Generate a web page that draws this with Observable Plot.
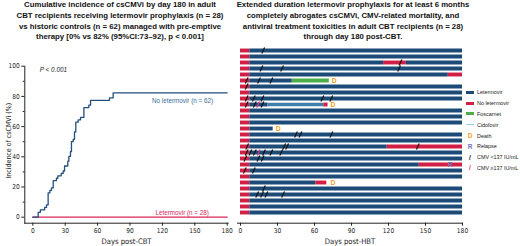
<!DOCTYPE html>
<html><head><meta charset="utf-8">
<script src="https://cdn.jsdelivr.net/npm/d3@7"></script>
<script src="https://cdn.jsdelivr.net/npm/@observablehq/plot@0.6"></script>
<style>
html,body{margin:0;padding:0;background:#fff;}
#wrap{position:relative;width:520px;height:246px;overflow:hidden;font-family:"Liberation Sans",Arial,sans-serif;}
.title{position:absolute;top:0;text-align:center;font-weight:bold;font-size:7.8px;line-height:10.8px;white-space:nowrap;color:#111;}
.panel{position:absolute;top:0;}
#legend{position:absolute;left:466px;top:87px;font-size:5.4px;color:#222;}
#legend .row{height:10.8px;display:flex;align-items:center;white-space:nowrap;}
#legend .sw{width:8px;display:inline-block;margin-right:3px;text-align:center;font-weight:bold;font-size:6.5px;}
</style></head>
<body><div id="wrap">
<div class="title" style="left:0;width:240px;">Cumulative incidence of csCMVi by day 180 in adult<br>CBT recipients receiving letermovir prophylaxis (n = 28)<br>vs historic controls (n = 62) managed with pre-emptive<br>therapy [0% vs 82% (95%CI:73–92), p &lt; 0.001]</div>
<div class="title" style="left:236px;width:234px;">Extended duration letermovir prophylaxis for at least 6 months<br>completely abrogates csCMVi, CMV-related mortality, and<br>antiviral treatment toxicities in adult CBT recipients (n = 28)<br>through day 180 post-CBT.</div>
<div class="panel" id="left" style="left:0;"></div>
<div class="panel" id="right" style="left:236px;"></div>
<div id="legend"></div>
</div>
<script>
// ---- Left panel data ----
const cumDays = [0, 5, 7, 11, 12.7, 14.2, 15.8, 17.3, 18.9, 21.9, 23.2, 26.3, 28.1, 29.4, 32.4, 33.4, 34.9, 35.8, 37.4, 38.6, 39.8, 42, 44.2, 47.3, 51.9, 53.5, 71, 74.4, 180];
const cumNoLet = [0, 3.2, 4.8, 6.5, 8.1, 16.1, 17.7, 19.4, 24.2, 25.8, 27.4, 29.0, 30.6, 33.9, 37.1, 40.3, 43.5, 50.0, 51.6, 56.5, 62.9, 64.5, 66.1, 72.6, 74.2, 77.4, 79.0, 82.3, 82.3];
const letDays = [0, 180];
const cumLet = [0, 0];
const xTicks = [0, 30, 60, 90, 120, 150, 180];
const yTicks = [0, 20, 40, 60, 80, 100];
const yMinorTicks = [10, 30, 50, 70, 90];
const groupNames = ["No letermovir (n = 62)", "Letermovir (n = 28)"];

// ---- Right panel data ----
const patients = [1,2,3,4,5,6,7,8,9,10,11,12,13,14,15,16,17,18,19,20,21,22,23,24,25,26,27,28];
const segPatient = [1,1, 2,2, 3,3,3,3, 4,4, 5,5,5, 6,6,6, 7,7, 8,8, 9,9, 10,10,10,10, 11,11, 12,12, 13,13, 14,14, 15,15, 16,16, 17,17,17, 18,18, 19,19, 20,20,20, 21,21, 22,22, 23,23,23, 24,24, 25,25, 26,26, 27,27, 28,28];
const segStart   = [0,7.5, 0,7.5, 0,7.5,116,134.5, 0,7.5, 0,7.5,168.5, 0,7.5,42, 0,7.5, 0,7.5, 0,7.5, 0,7.5,22.4,67.5, 0,7.5, 0,7.5, 0,7.5, 0,7.5, 0,7.5, 0,7.5, 0,7.5,119, 0,7.5, 0,7.5, 0,7.5,145, 0,7.5, 0,7.5, 0,7.5,61, 0,7.5, 0,7.5, 0,7.5, 0,7.5, 0,7.5];
const segEnd     = [7.5,180, 7.5,180, 7.5,116,134.5,180, 7.5,180, 7.5,168.5,180, 7.5,42,72, 7.5,180, 7.5,180, 7.5,180, 7.5,22.4,67.5,71, 7.5,180, 7.5,180, 7.5,180, 7.5,26.5, 7.5,180, 7.5,180, 7.5,119,180, 7.5,180, 7.5,180, 7.5,145,180, 7.5,180, 7.5,180, 7.5,61,70, 7.5,180, 7.5,180, 7.5,180, 7.5,180, 7.5,180];
const segType    = ["N","L", "N","L", "N","L","N","L", "N","L", "N","L","N", "N","L","F", "N","L", "N","L", "N","L", "N","L","C","N", "N","L", "N","L", "N","L", "N","L", "N","L", "N","L", "N","L","N", "N","L", "N","L", "N","L","N", "N","L", "N","L", "N","L","N", "N","L", "N","L", "N","L", "N","L", "N","L"];
const tickPatient = [1, 3, 4,4,4, 6,6,6, 7, 9,9,9,9,9, 10,10,10,10, 15,15,15, 17,17,17,17, 18,18,18,18,18,18,18, 19,19,19, 21,21, 24, 25,25,25,25];
const tickDay     = [18.4, 129.7, 17,33.7,128.6, 5,15,25, 5, 5,10.8,17.8,66.4,73.6, 5,11.6,14.3,17.8, 45,48.6,73.7, 5.4,35.4,37.8,143.8, 5,8,11.6,14.8,19,25,33, 4,14.5,18, 3.5,10.8, 19, 13.5,17.5,21,34.5];
const tickLevel   = ["lo", "lo", "lo","lo","lo", "lo","lo","lo", "lo", "lo","lo","lo","lo","lo", "lo","lo","hi","lo", "lo","lo","lo", "lo","lo","lo","lo", "lo","lo","lo","hi","lo","lo","lo", "lo","lo","lo", "lo","lo", "lo", "lo","lo","lo","lo"];
const evPatient = [6, 10, 14, 20, 23];
const evDay     = [76, 75, 30.5, 170, 75];
const evType    = ["D", "D", "D", "R", "D"];

const legendLabels = ["Letermovir", "No letermovir", "Foscarnet", "Cidofovir", "Death", "Relapse", "CMV <137 IU/mL", "CMV \u2265137 IU/mL"];

// colours
const cBlue = "#1d4b78", cRed = "#d21f45", cGreen = "#4cad4a", cCido = "#3f7fa9", cCidoLeg = "#8fd0ee", cD = "#f0a020", cR = "#7a70b5", cLo = "#111", cHi = "#e0307a";
const segColor = {L: cBlue, N: cRed, F: cGreen, C: cCido};

const narrow = "'Liberation Sans Narrow','DejaVu Sans Condensed',sans-serif";

// slash symbol for CMV measurements
const slash = {
  draw(ctx, size) {
    const r = Math.sqrt(size / Math.PI);
    ctx.moveTo(-r * 0.45, r);
    ctx.lineTo(r * 0.45, -r);
  }
};

// ---- Left chart ----
const noLet = cumDays.map((d, i) => ({day: d, pct: cumNoLet[i]}));
const letr = letDays.map((d, i) => ({day: d, pct: cumLet[i]}));
const labelRows = [
  {day: cumDays[cumDays.length - 1], pct: cumNoLet[cumNoLet.length - 1], name: groupNames[0], c: "#3a6d9b"},
  {day: letDays[letDays.length - 1], pct: cumLet[cumLet.length - 1], name: groupNames[1], c: "#d6295a"}
];

const left = Plot.plot({
  width: 236, height: 246,
  marginLeft: 24.3, marginRight: 8.3, marginTop: 65.7, marginBottom: 23.3,
  style: {fontFamily: narrow, fontSize: "6.6px", color: "#222", background: "transparent", overflow: "visible"},
  x: {domain: [0, 180], insetLeft: 8, insetRight: 1},
  y: {domain: [0, 100], insetBottom: 6},
  marks: [
    Plot.frame({anchor: "left", stroke: "#222"}),
    Plot.frame({anchor: "bottom", stroke: "#222"}),
    Plot.axisX({ticks: xTicks, tickSize: 3, tickPadding: 2, label: null}),
    Plot.axisY({ticks: yTicks, tickSize: 3, tickPadding: 2, label: null}),
    Plot.axisY({ticks: yMinorTicks, tickSize: 1.6, tickFormat: () => "", label: null}),
    Plot.line(letr, {x: "day", y: "pct", stroke: "#e0245a", strokeWidth: 1.3}),
    Plot.line(noLet, {x: "day", y: "pct", curve: "step-after", stroke: "#23507d", strokeWidth: 1.3}),
    Plot.text(labelRows.slice(0, 1), {x: "day", y: "pct", text: "name", fill: "c", dx: -44.7, dy: 7.6, fontSize: 6.3, fontFamily: "'Liberation Sans',Arial,sans-serif"}),
    Plot.text(labelRows.slice(1), {x: "day", y: "pct", text: "name", fill: "c", dx: -45, dy: -4, fontSize: 6.3, fontFamily: "'Liberation Sans',Arial,sans-serif"}),
    Plot.text(["P < 0.001"], {frameAnchor: "top-left", text: d => d, dx: 15, dy: 0.8, fontStyle: "italic", fontSize: 6.4, fontFamily: "'Liberation Sans',Arial,sans-serif"}),
    Plot.text(["Days post-CBT"], {frameAnchor: "bottom", text: d => d, dy: 20.5, fontSize: 7.6}),
    Plot.text(["Incidence of csCMVi (%)"], {frameAnchor: "left", textAnchor: "middle", text: d => d, rotate: -90, dx: -16.5, dy: -4, fontSize: 7})
  ]
});
document.getElementById("left").append(left);

// ---- Right chart ----
const segs = segPatient.map((p, i) => ({p, s: segStart[i], e: segEnd[i], c: segColor[segType[i]], w: segType[i] === "C" ? 3.4 : 3.9}));
const ticks = tickPatient.map((p, i) => ({p, d: tickDay[i], c: tickLevel[i] === "hi" ? cHi : cLo}));
const evs = evPatient.map((p, i) => ({p, d: evDay[i], t: evType[i], c: evType[i] === "D" ? cD : cR}));

const right = Plot.plot({
  width: 284, height: 246,
  marginLeft: 1, marginRight: 58, marginTop: 45, marginBottom: 23.3,
  style: {fontFamily: narrow, fontSize: "6.6px", color: "#222", background: "transparent", overflow: "visible"},
  x: {domain: [0, 180], insetLeft: 3},
  y: {type: "point", domain: patients, padding: 0, insetBottom: 6.7, axis: null},
  marks: [
    Plot.frame({anchor: "bottom", stroke: "#222"}),
    Plot.axisX({ticks: xTicks, tickSize: 3, tickPadding: 2, label: null}),
    Plot.ruleY(segs, {y: "p", x1: "s", x2: "e", stroke: "c", strokeWidth: "w"}),
    Plot.dot(ticks, {x: "d", y: "p", symbol: slash, r: 3.1, stroke: "c", strokeWidth: 1.2, fill: "none"}),
    Plot.text(evs, {x: "d", y: "p", text: "t", fill: "c", fontSize: 6.8, fontWeight: "bold", fontFamily: "'Liberation Sans',Arial,sans-serif"}),
    Plot.text(["Days post-HBT"], {frameAnchor: "bottom", text: d => d, dy: 20.5, fontSize: 7.6})
  ]
});
document.getElementById("right").append(right);

// ---- Legend ----
const legSw = [
  {k: "line", c: cBlue, h: 3}, {k: "line", c: cRed, h: 3}, {k: "line", c: cGreen, h: 3}, {k: "line", c: cCidoLeg, h: 1.2},
  {k: "txt", c: cD, t: "D"}, {k: "txt", c: cR, t: "R"}, {k: "txt", c: cLo, t: "/"}, {k: "txt", c: cHi, t: "/"}
];
const leg = d3.select("#legend");
legendLabels.forEach((lab, i) => {
  const r = leg.append("div").attr("class", "row");
  const s = legSw[i];
  if (s.k === "line") r.append("span").attr("class", "sw").append("span").style("display", "block").style("height", s.h + "px").style("background", s.c);
  else r.append("span").attr("class", "sw").style("color", s.c).text(s.t);
  r.append("span").text(lab);
});
</script>
</body></html>
